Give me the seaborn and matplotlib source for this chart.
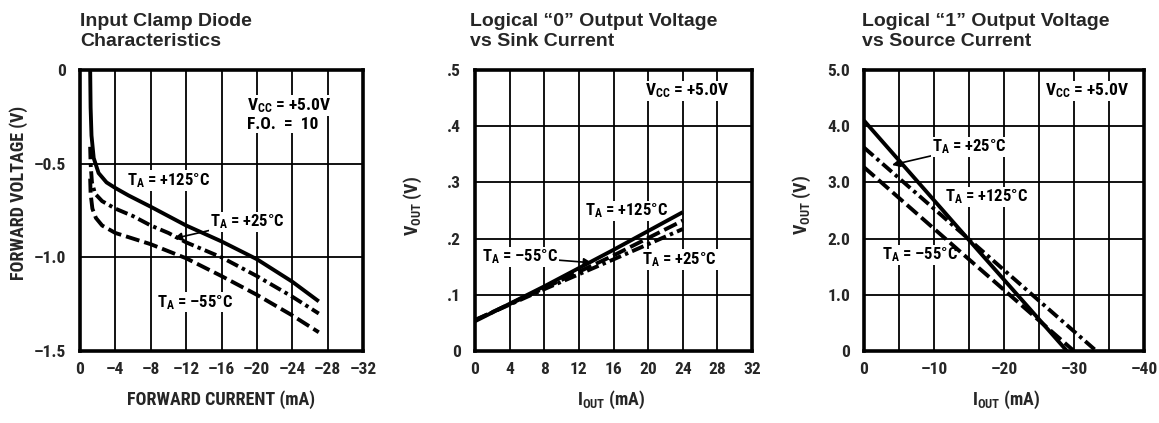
import matplotlib
matplotlib.use("Agg")
import matplotlib.pyplot as plt
from matplotlib import font_manager as fm
import seaborn as sns
import pandas as pd

# ---------------- data ----------------
# Panel 1: Input clamp diode characteristics (I in mA, V in volts)
p1_125_i = [-1.15, -1.2, -1.3, -1.55, -2.1, -3.0, -4.0, -5.5, -8, -12, -16, -20, -24, -27]
p1_125_v = [0.0, -0.2, -0.35, -0.47, -0.55, -0.6, -0.63, -0.67, -0.73, -0.83, -0.915, -1.01, -1.13, -1.235]
p1_25_i = [-1.15, -1.2, -1.35, -1.7, -2.5, -4, -6, -8, -10, -12, -16, -20, -24, -27]
p1_25_v = [-0.41, -0.5, -0.6, -0.66, -0.7, -0.74, -0.78, -0.83, -0.87, -0.92, -1.0, -1.1, -1.21, -1.30]
p1_m55_i = [-1.15, -1.2, -1.4, -1.8, -2.5, -4, -8, -12, -16, -20, -24, -27]
p1_m55_v = [-0.58, -0.66, -0.74, -0.79, -0.83, -0.87, -0.93, -1.005, -1.1, -1.2, -1.31, -1.40]

# Panel 2: Logical "0" output voltage vs sink current
p2_i = [0, 8, 16, 24]
p2_125_v = [0.053, 0.115, 0.180, 0.247]
p2_m55_v = [0.055, 0.112, 0.170, 0.232]
p2_25_v = [0.055, 0.110, 0.163, 0.217]

# Panel 3: Logical "1" output voltage vs source current
p3_125_i = [0, -14.6, -29.0]
p3_125_v = [4.1, 2.03, 0.0]
p3_25_i = [0, -14.6, -33.2]
p3_25_v = [3.62, 2.03, 0.0]
p3_m55_i = [0, -15.0, -30.0]
p3_m55_v = [3.27, 1.63, 0.0]

MINUS = "\u2013"
p1_xticks = [0, -4, -8, -12, -16, -20, -24, -28, -32]
p1_yticks = [0, -0.5, -1.0, -1.5]
p1_ylabels = ["0", MINUS + "0.5", MINUS + "1.0", MINUS + "1.5"]
p2_xticks = [0, 4, 8, 12, 16, 20, 24, 28, 32]
p2_yticks = [0, 0.1, 0.2, 0.3, 0.4, 0.5]
p2_ylabels = ["0", ".1", ".2", ".3", ".4", ".5"]
p3_xticks = [0, -5, -10, -15, -20, -25, -30, -35, -40]
p3_xlabels = ["0", "", MINUS + "10", "", MINUS + "20", "", MINUS + "30", "", MINUS + "40"]
p3_yticks = [0, 1, 2, 3, 4, 5]
p3_ylabels = ["0", "1.0", "2.0", "3.0", "4.0", "5.0"]

# ---------------- style ----------------
sns.set_style("white")
names = {f.name for f in fm.fontManager.ttflist}
condensed = [n for n in ("Liberation Sans Narrow", "Roboto Condensed", "Open Sans Condensed",
                         "DejaVu Sans Condensed", "Noto Sans Condensed") if n in names]
if condensed:
    NARROW, SC = condensed[0], 1.0
elif "Roboto" in names:
    NARROW, SC = "Roboto", 0.9
else:
    NARROW, SC = "Liberation Sans", 0.9
TITLEF = "Liberation Sans" if "Liberation Sans" in names else "DejaVu Sans"
plt.rcParams["font.family"] = [NARROW, "DejaVu Sans"]
plt.rcParams["mathtext.fontset"] = "custom"
for k in ("rm", "it", "bf", "sf"):
    plt.rcParams["mathtext." + k] = NARROW + ":bold"

W, H = 1159, 423
fig = plt.figure(figsize=(W / 100, H / 100), dpi=100)

def ax_at(px_left, px_right, px_top=70, px_bottom=351):
    return fig.add_axes([px_left / W, 1 - px_bottom / H,
                         (px_right - px_left) / W, (px_bottom - px_top) / H])

ax1 = ax_at(80, 363)
ax2 = ax_at(475, 752)
ax3 = ax_at(864, 1144)

LW = 2.8
SOLID = "-"
DASH = (0, (3.6, 1.3))
DASHDOT = (0, (3.2, 1.1, 0.9, 1.1))

def draw(ax, xs, ys, ls):
    df = pd.DataFrame({"x": xs, "y": ys})
    sns.lineplot(data=df, x="x", y="y", ax=ax, color="black", lw=LW,
                 linestyle=ls, sort=False, estimator=None, legend=False,
                 solid_capstyle="butt", dash_capstyle="butt", zorder=4)

draw(ax1, p1_125_i, p1_125_v, SOLID)
draw(ax1, p1_25_i, p1_25_v, DASHDOT)
draw(ax1, p1_m55_i, p1_m55_v, DASH)

draw(ax2, p2_i, p2_125_v, SOLID)
draw(ax2, p2_i, p2_m55_v, DASH)
draw(ax2, p2_i, p2_25_v, DASHDOT)

draw(ax3, p3_125_i, p3_125_v, SOLID)
draw(ax3, p3_25_i, p3_25_v, DASHDOT)
draw(ax3, p3_m55_i, p3_m55_v, DASH)

TICKFS = 12.5 * SC
for ax in (ax1, ax2, ax3):
    ax.set_xlabel("")
    ax.set_ylabel("")
    ax.grid(True, color="black", lw=1.3)
    ax.set_axisbelow(True)
    for s in ax.spines.values():
        s.set_visible(True)
        s.set_color("black")
        s.set_linewidth(2.6)
        s.set_zorder(5)
    ax.tick_params(length=0, labelsize=TICKFS)
    ax.tick_params(axis="y", pad=10)
    ax.tick_params(axis="x", pad=8)

ax1.set_xlim(0, -32)
ax1.set_ylim(-1.5, 0)
ax1.set_xticks(p1_xticks)
ax1.set_xticklabels(["0" if v == 0 else MINUS + "%d" % abs(v) for v in p1_xticks])
ax1.set_yticks(p1_yticks)
ax1.set_yticklabels(p1_ylabels)

ax2.set_xlim(0, 32)
ax2.set_ylim(0, 0.5)
ax2.set_xticks(p2_xticks)
ax2.set_xticklabels([str(v) for v in p2_xticks])
ax2.set_yticks(p2_yticks)
ax2.set_yticklabels(p2_ylabels)

ax3.set_xlim(0, -40)
ax3.set_ylim(0, 5)
ax3.set_xticks(p3_xticks)
ax3.set_xticklabels(p3_xlabels)
ax3.set_yticks(p3_yticks)
ax3.set_yticklabels(p3_ylabels)

for ax in (ax1, ax2, ax3):
    for lab in ax.get_xticklabels() + ax.get_yticklabels():
        lab.set_fontweight("bold")

# ---------------- annotations ----------------
AFS = 12 * SC
box = dict(facecolor="white", edgecolor="none", pad=0.6)
kw = dict(fontsize=AFS, fontweight="bold", ha="left", va="center", color="black",
          bbox=box, zorder=3)
arrow = dict(arrowstyle="-|>", color="black", lw=1.2, mutation_scale=12, shrinkA=0, shrinkB=0)

TA = r"T$_{\mathrm{A}}$"
ax1.text(-5.3, -0.59, TA + " = +125\u00b0C", **kw)
ax1.annotate(TA + " = +25\u00b0C", xy=(-10.6, -0.90), xytext=(-14.7, -0.81),
             arrowprops=arrow, **kw)
ax1.text(-8.7, -1.24, TA + " = " + MINUS + "55\u00b0C", **kw)
kw_v = dict(kw, fontsize=12.5 * SC)
ax1.text(-18.9, -0.19, r"V$_{\mathrm{CC}}$ = +5.0V", **kw_v)
ax1.text(-18.9, -0.29, "F.O.  =  10", **kw_v)

ax2.text(12.7, 0.249, TA + " = +125\u00b0C", **kw)
ax2.annotate(TA + " = " + MINUS + "55\u00b0C", xy=(13.5, 0.157), xytext=(0.8, 0.167),
             arrowprops=arrow, **kw)
ax2.text(19.3, 0.163, TA + " = +25\u00b0C", **kw)
ax2.text(19.6, 0.463, r"V$_{\mathrm{CC}}$ = +5.0V", **kw_v)

ax3.annotate(TA + " = +25\u00b0C", xy=(-4.0, 3.31), xytext=(-9.7, 3.63),
             arrowprops=arrow, **kw)
ax3.text(-11.6, 2.74, TA + " = +125\u00b0C", **kw)
ax3.text(-2.6, 1.71, TA + " = " + MINUS + "55\u00b0C", **kw)
ax3.text(-25.9, 4.63, r"V$_{\mathrm{CC}}$ = +5.0V", **kw_v)

# ---------------- titles & axis labels ----------------
TFS = 14
tkw = dict(fontsize=TFS, fontweight="bold", family=[TITLEF, "DejaVu Sans"],
           ha="left", va="top", linespacing=1.2)
fig.text(80 / W, 1 - 13 / H, "Input Clamp Diode\nCharacteristics", **tkw)
fig.text(470 / W, 1 - 13 / H, "Logical \u201c0\u201d Output Voltage\nvs Sink Current", **tkw)
fig.text(862 / W, 1 - 13 / H, "Logical \u201c1\u201d Output Voltage\nvs Source Current", **tkw)

LFS = 13 * SC
lkw = dict(fontsize=LFS, fontweight="bold", ha="center", va="center")
fig.text(221 / W, 1 - 400 / H, "FORWARD CURRENT (mA)", **lkw)
fig.text(19 / W, 1 - 193 / H, "FORWARD VOLTAGE (V)", rotation=90, **lkw)
fig.text(611 / W, 1 - 400 / H, r"I$_{\mathrm{OUT}}$ (mA)", **lkw)
fig.text(413 / W, 1 - 206 / H, r"V$_{\mathrm{OUT}}$ (V)", rotation=90, **lkw)
fig.text(1006 / W, 1 - 400 / H, r"I$_{\mathrm{OUT}}$ (mA)", **lkw)
fig.text(802 / W, 1 - 205 / H, r"V$_{\mathrm{OUT}}$ (V)", rotation=90, **lkw)

fig.savefig("out.png", dpi=100, facecolor="white")
